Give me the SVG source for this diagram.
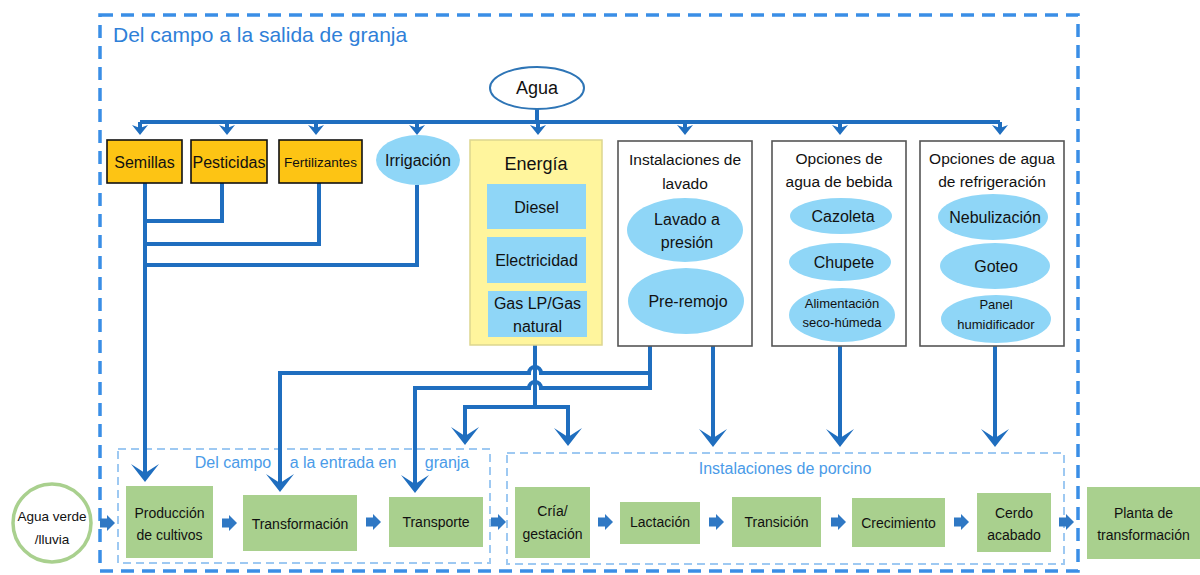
<svg xmlns="http://www.w3.org/2000/svg" width="1200" height="575" viewBox="0 0 1200 575">
<style>
text{font-family:"Liberation Sans",Arial,sans-serif;fill:#111;text-anchor:middle}
.conn{fill:none;stroke:#1f6ebf;stroke-width:4;stroke-linejoin:miter}
.gold{fill:#fdc414;stroke:#111;stroke-width:1.6}
.blue{fill:#8fd6f7}
.green{fill:#a9d08e}
.wbox{fill:#fff;stroke:#555;stroke-width:1.6}
.blk{fill:#2f78c4}
</style>
<defs>
<marker id="ah" markerUnits="userSpaceOnUse" viewBox="0 0 18 28" markerWidth="18" markerHeight="28" refX="9" refY="14" orient="auto">
<path d="M18,14 L0,0 L9,14 L0,28 Z" fill="#1f6ebf"/>
</marker>
<marker id="ahs" markerUnits="userSpaceOnUse" viewBox="0 0 10 16" markerWidth="10" markerHeight="16" refX="3" refY="8" orient="auto">
<path d="M10,8 L0,0 L3,8 L0,16 Z" fill="#1f6ebf"/>
</marker>
<path id="blkarrow" d="M0,-4.5 H7 V-8 L15,0 L7,8 V4.5 H0 Z"/>
</defs>
<rect width="1200" height="575" fill="#fff"/>

<!-- outer frame -->
<g id="frame-outer">
<rect x="100" y="15" width="978" height="556" fill="none" stroke="#3a8ee6" stroke-width="3.5" stroke-dasharray="13 8"/>
<text x="113" y="42" style="text-anchor:start;fill:#2f80d8;font-size:21px">Del campo a la salida de granja</text>
</g>
<g id="frame-entrada">
<rect x="118" y="449" width="372" height="114" fill="none" stroke="#9ec9f2" stroke-width="2" stroke-dasharray="8 5"/>
<text y="468" style="fill:#4a9be8;font-size:16px"><tspan x="233">Del campo</tspan><tspan x="343">a la entrada en</tspan><tspan x="447">granja</tspan></text>
</g>
<g id="frame-porcino">
<rect x="507" y="453" width="557" height="111" fill="none" stroke="#9ec9f2" stroke-width="2" stroke-dasharray="8 5"/>
<text x="785" y="474" style="fill:#4a9be8;font-size:16px">Instalaciones de porcino</text>
</g>

<!-- connectors -->
<g id="connectors">
<path class="conn" d="M537,109 V122"/>
<path class="conn" d="M140,122 H1000"/>
<path class="conn" d="M140,122 V128" marker-end="url(#ahs)"/>
<path class="conn" d="M227,122 V128" marker-end="url(#ahs)"/>
<path class="conn" d="M316,122 V128" marker-end="url(#ahs)"/>
<path class="conn" d="M417,122 V128" marker-end="url(#ahs)"/>
<path class="conn" d="M538,122 V128" marker-end="url(#ahs)"/>
<path class="conn" d="M685,122 V128" marker-end="url(#ahs)"/>
<path class="conn" d="M840,122 V128" marker-end="url(#ahs)"/>
<path class="conn" d="M1000,122 V128" marker-end="url(#ahs)"/>

<path class="conn" d="M145,183 V473" marker-end="url(#ah)"/>
<path class="conn" d="M222,183 V221 H145"/>
<path class="conn" d="M319,183 V244 H145"/>
<path class="conn" d="M417,185 V265 H145"/>

<path class="conn" d="M535,345 V407"/>
<path class="conn" d="M535,407 H465 V436" marker-end="url(#ah)"/>
<path class="conn" d="M535,407 H568 V437" marker-end="url(#ah)"/>

<path class="conn" d="M650,345 V388 H541 A6,6 0 0 0 529,388 H415 V484" marker-end="url(#ah)"/>
<path class="conn" d="M650,373 H541 A6,6 0 0 0 529,373 H280 V483" marker-end="url(#ah)"/>

<path class="conn" d="M713,345 V438" marker-end="url(#ah)"/>
<path class="conn" d="M840,345 V438" marker-end="url(#ah)"/>
<path class="conn" d="M995,345 V438" marker-end="url(#ah)"/>

<use href="#blkarrow" class="blk" x="100" y="523"/>
<use href="#blkarrow" class="blk" x="222" y="523"/>
<use href="#blkarrow" class="blk" x="366" y="522"/>
<use href="#blkarrow" class="blk" x="491" y="522"/>
<use href="#blkarrow" class="blk" x="598" y="522"/>
<use href="#blkarrow" class="blk" x="709" y="522"/>
<use href="#blkarrow" class="blk" x="831" y="522"/>
<use href="#blkarrow" class="blk" x="954" y="522"/>
<use href="#blkarrow" class="blk" x="1059" y="522"/>
</g>

<!-- top nodes -->
<g id="agua">
<ellipse cx="537" cy="88" rx="47" ry="21" fill="#fff" stroke="#2e75b6" stroke-width="2"/>
<text x="537" y="94" style="font-size:18px">Agua</text>
</g>
<g id="semillas">
<rect class="gold" x="107" y="140" width="75" height="43"/>
<text x="144.5" y="168" style="font-size:16px">Semillas</text>
</g>
<g id="pesticidas">
<rect class="gold" x="191" y="140" width="76" height="43"/>
<text x="229" y="168" style="font-size:16px">Pesticidas</text>
</g>
<g id="fertilizantes">
<rect class="gold" x="279" y="140" width="83" height="43"/>
<text x="320.5" y="167" style="font-size:13.5px">Fertilizantes</text>
</g>
<g id="irrigacion">
<ellipse class="blue" cx="418" cy="160" rx="42" ry="25"/>
<text x="418" y="166" style="font-size:16px">Irrigación</text>
</g>
<g id="energia">
<rect x="470" y="140" width="132" height="205" fill="#fff59d" stroke="#ddd68f" stroke-width="1.5"/>
<text x="536" y="170" style="font-size:18px">Energía</text>
<rect class="blue" x="487" y="184" width="99" height="45"/>
<text x="536.5" y="213" style="font-size:16px">Diesel</text>
<rect class="blue" x="487" y="237" width="99" height="46"/>
<text x="536.5" y="266" style="font-size:16px">Electricidad</text>
<rect class="blue" x="488" y="291" width="99" height="46"/>
<text x="537.5" y="309" style="font-size:16px">Gas LP/Gas</text>
<text x="537.5" y="332" style="font-size:16px">natural</text>
</g>
<g id="lavado">
<rect class="wbox" x="618" y="141" width="134" height="205"/>
<text x="685" y="165" style="font-size:15.5px">Instalaciones de</text>
<text x="685" y="189" style="font-size:15.5px">lavado</text>
<ellipse class="blue" cx="685" cy="230" rx="58" ry="32"/>
<text x="687" y="225" style="font-size:16px">Lavado a</text>
<text x="687" y="248" style="font-size:16px">presión</text>
<ellipse class="blue" cx="686" cy="301" rx="58" ry="33"/>
<text x="688" y="307" style="font-size:16px">Pre-remojo</text>
</g>
<g id="bebida">
<rect class="wbox" x="772" y="141" width="134" height="205"/>
<text x="839" y="164" style="font-size:15.5px">Opciones de</text>
<text x="839" y="187" style="font-size:15.5px">agua de bebida</text>
<ellipse class="blue" cx="841" cy="216" rx="51" ry="18"/>
<text x="843" y="222" style="font-size:16px">Cazoleta</text>
<ellipse class="blue" cx="840" cy="262" rx="51" ry="19"/>
<text x="844" y="268" style="font-size:16px">Chupete</text>
<ellipse class="blue" cx="842" cy="315" rx="53" ry="27"/>
<text x="842" y="308" style="font-size:13px">Alimentación</text>
<text x="842" y="327" style="font-size:13px">seco-húmeda</text>
</g>
<g id="refrigeracion">
<rect class="wbox" x="920" y="141" width="144" height="205"/>
<text x="992" y="164" style="font-size:15.5px">Opciones de agua</text>
<text x="992" y="187" style="font-size:15.5px">de refrigeración</text>
<ellipse class="blue" cx="993" cy="217" rx="55" ry="23"/>
<text x="995" y="223" style="font-size:16px">Nebulización</text>
<ellipse class="blue" cx="995" cy="266" rx="55" ry="23"/>
<text x="996" y="272" style="font-size:16px">Goteo</text>
<ellipse class="blue" cx="996" cy="319" rx="55" ry="24"/>
<text x="996" y="309" style="font-size:13px">Panel</text>
<text x="996" y="329" style="font-size:13px">humidificador</text>
</g>

<!-- bottom nodes -->
<g id="agua-verde">
<circle cx="52" cy="523" r="39" fill="#fff" stroke="#a9d08e" stroke-width="3.5"/>
<text x="52" y="521" style="font-size:13.5px">Agua verde</text>
<text x="52" y="544" style="font-size:13.5px">/lluvia</text>
</g>
<g id="produccion">
<rect class="green" x="126" y="486" width="87" height="72"/>
<text x="169.5" y="518" style="font-size:14px">Producción</text>
<text x="169.5" y="540" style="font-size:14px">de cultivos</text>
</g>
<g id="transformacion">
<rect class="green" x="243" y="495" width="114" height="56"/>
<text x="300" y="529" style="font-size:14px">Transformación</text>
</g>
<g id="transporte">
<rect class="green" x="389" y="497" width="94" height="50"/>
<text x="436" y="527" style="font-size:14px">Transporte</text>
</g>
<g id="cria">
<rect class="green" x="515" y="487" width="75" height="71"/>
<text x="552.5" y="516" style="font-size:14px">Cría/</text>
<text x="552.5" y="539" style="font-size:14px">gestación</text>
</g>
<g id="lactacion">
<rect class="green" x="620" y="502" width="80" height="42"/>
<text x="660" y="527" style="font-size:14px">Lactación</text>
</g>
<g id="transicion">
<rect class="green" x="732" y="497" width="89" height="50"/>
<text x="776.5" y="527" style="font-size:14px">Transición</text>
</g>
<g id="crecimiento">
<rect class="green" x="852" y="498" width="93" height="49"/>
<text x="898.5" y="528" style="font-size:14px">Crecimiento</text>
</g>
<g id="cerdo">
<rect class="green" x="977" y="493" width="74" height="59"/>
<text x="1014" y="518" style="font-size:14px">Cerdo</text>
<text x="1014" y="540" style="font-size:14px">acabado</text>
</g>
<g id="planta">
<rect class="green" x="1087" y="487" width="113" height="72"/>
<text x="1143.5" y="518" style="font-size:14px">Planta de</text>
<text x="1143.5" y="540" style="font-size:14px">transformación</text>
</g>
</svg>
